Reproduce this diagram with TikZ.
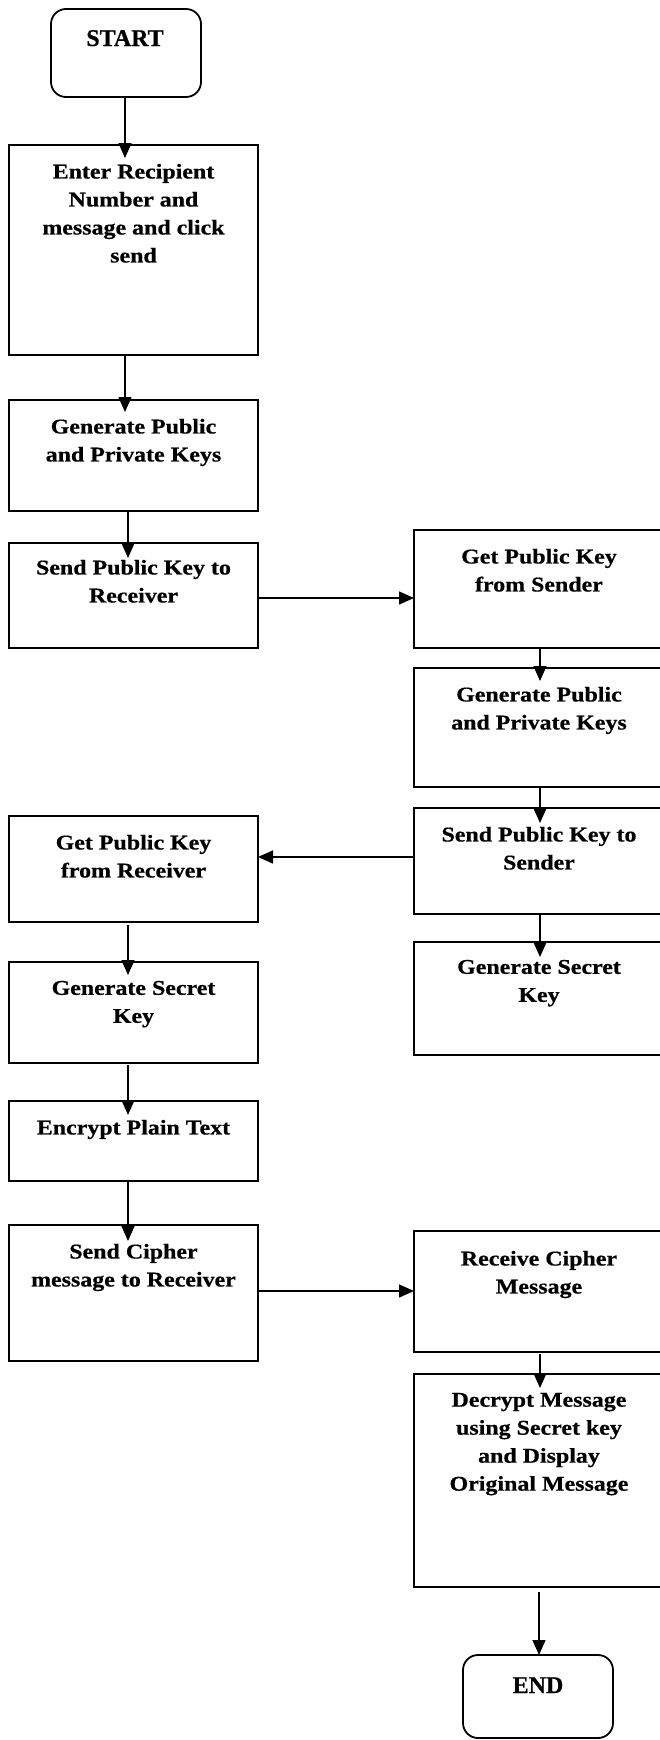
\documentclass[tikz,border=0pt]{standalone}
\usepackage{fontspec}
\usetikzlibrary{arrows.meta,calc}
\newfontfamily\boxfam[FakeStretch=1.14,FakeBold=0.6]{Liberation Serif}
\newfontfamily\termfam[FakeBold=0.6]{Liberation Serif}
\newcommand\boxfont{\boxfam\bfseries\fontsize{21}{28}\selectfont}
\newcommand\termfont{\termfam\bfseries\fontsize{24}{28}\selectfont}
\begin{document}
\begin{tikzpicture}[x=1pt,y=-1pt,
  box/.style={draw, line width=1.8pt, inner sep=0pt, outer sep=0pt, anchor=north west, rectangle},
  term/.style={box, rounded corners=15pt},
  txt/.style={font=\boxfont, align=center, inner sep=0pt, anchor=north},
  ttxt/.style={font=\termfont, inner sep=0pt, anchor=base},
  arr/.style={line width=1.4pt, -{Triangle[length=15pt,width=13pt]}}]
\useasboundingbox[fill=white] (0,0) rectangle (660,1740);
% boxes
\node[term, minimum width=150pt, minimum height=88pt] (nstart) at (51,9) {};
\node[box, minimum width=249pt, minimum height=210pt] (enter) at (9,145) {};
\node[box, minimum width=249pt, minimum height=111pt] (genL) at (9,400) {};
\node[box, minimum width=249pt, minimum height=105pt] (sendR) at (9,543) {};
\node[box, minimum width=250pt, minimum height=118pt] (getS) at (414,530) {};
\node[box, minimum width=250pt, minimum height=119pt] (genR) at (414,668) {};
\node[box, minimum width=250pt, minimum height=106pt] (sendS) at (414,808) {};
\node[box, minimum width=249pt, minimum height=106pt] (getR) at (9,816) {};
\node[box, minimum width=249pt, minimum height=101pt] (secL) at (9,962) {};
\node[box, minimum width=250pt, minimum height=113pt] (secR) at (414,942) {};
\node[box, minimum width=249pt, minimum height=80pt] (enc) at (9,1101) {};
\node[box, minimum width=249pt, minimum height=136pt] (sendC) at (9,1225) {};
\node[box, minimum width=250pt, minimum height=121pt] (recv) at (414,1231) {};
\node[box, minimum width=250pt, minimum height=213pt] (dec) at (414,1374) {};
\node[term, minimum width=150pt, minimum height=83pt] (nend) at (463,1655) {};
% texts
\node[ttxt] (t1) at (125,46) {START};
\node[txt] (t2) at (133.5,163.7) {Enter Recipient\\Number and\\message and click\\send};
\node[txt] (t3) at (133.5,418.7) {Generate Public\\and Private Keys};
\node[txt] (t4) at (133.5,559.7) {Send Public Key to\\Receiver};
\node[txt] (t5) at (539,548.7) {Get Public Key\\from Sender};
\node[txt] (t6) at (539,686.7) {Generate Public\\and Private Keys};
\node[txt] (t7) at (539,826.7) {Send Public Key to\\Sender};
\node[txt] (t8) at (133.5,834.7) {Get Public Key\\from Receiver};
\node[txt] (t9) at (133.5,980.7) {Generate Secret\\Key};
\node[txt] (t10) at (539,959.7) {Generate Secret\\Key};
\node[txt] (t11) at (133.5,1119.7) {Encrypt Plain Text};
\node[txt] (t12) at (133.5,1243.7) {Send Cipher\\message to Receiver};
\node[txt] (t13) at (539,1250.7) {Receive Cipher\\Message};
\node[txt] (t14) at (539,1392.7) {Decrypt Message\\using Secret key\\and Display\\Original Message};
\node[ttxt] (t15) at (538,1693) {END};
% connectors
\draw[arr] ([xshift=-1pt]nstart.south) -- ([xshift=-8.5pt,yshift=-13pt]enter.north);
\draw[arr] ([xshift=-8.5pt]enter.south) -- ([xshift=-8.5pt,yshift=-12pt]genL.north);
\draw[arr] ([xshift=-5.5pt]genL.south) -- ([xshift=-5.5pt,yshift=-15pt]sendR.north);
\coordinate (p4) at ([yshift=-2.5pt]sendR.east);
\draw[arr] (p4) -- (p4 -| getS.west);
\draw[arr] ([xshift=1pt]getS.south) -- ([xshift=1pt,yshift=-13pt]genR.north);
\draw[arr] ([xshift=1pt]genR.south) -- ([xshift=1pt,yshift=-15pt]sendS.north);
\coordinate (p7) at ([yshift=4pt]sendS.west);
\draw[arr] (p7) -- (p7 -| getR.east);
\draw[arr] ([xshift=-5.5pt,yshift=-3pt]getR.south) -- ([xshift=-5.5pt,yshift=-13pt]secL.north);
\draw[arr] ([xshift=1pt]sendS.south) -- ([xshift=1pt,yshift=-15pt]secR.north);
\draw[arr] ([xshift=-5.5pt,yshift=-2pt]secL.south) -- ([xshift=-5.5pt,yshift=-14pt]enc.north);
\draw[arr] ([xshift=-5.5pt]enc.south) -- ([xshift=-5.5pt,yshift=-16pt]sendC.north);
\coordinate (p12) at ([yshift=2pt]sendC.east);
\draw[arr] (p12) -- (p12 -| recv.west);
\draw[arr] ([xshift=1pt,yshift=-2pt]recv.south) -- ([xshift=1pt,yshift=-14pt]dec.north);
\draw[arr] ([yshift=-5pt]dec.south) -- ([xshift=1pt]nend.north);
\end{tikzpicture}
\end{document}
